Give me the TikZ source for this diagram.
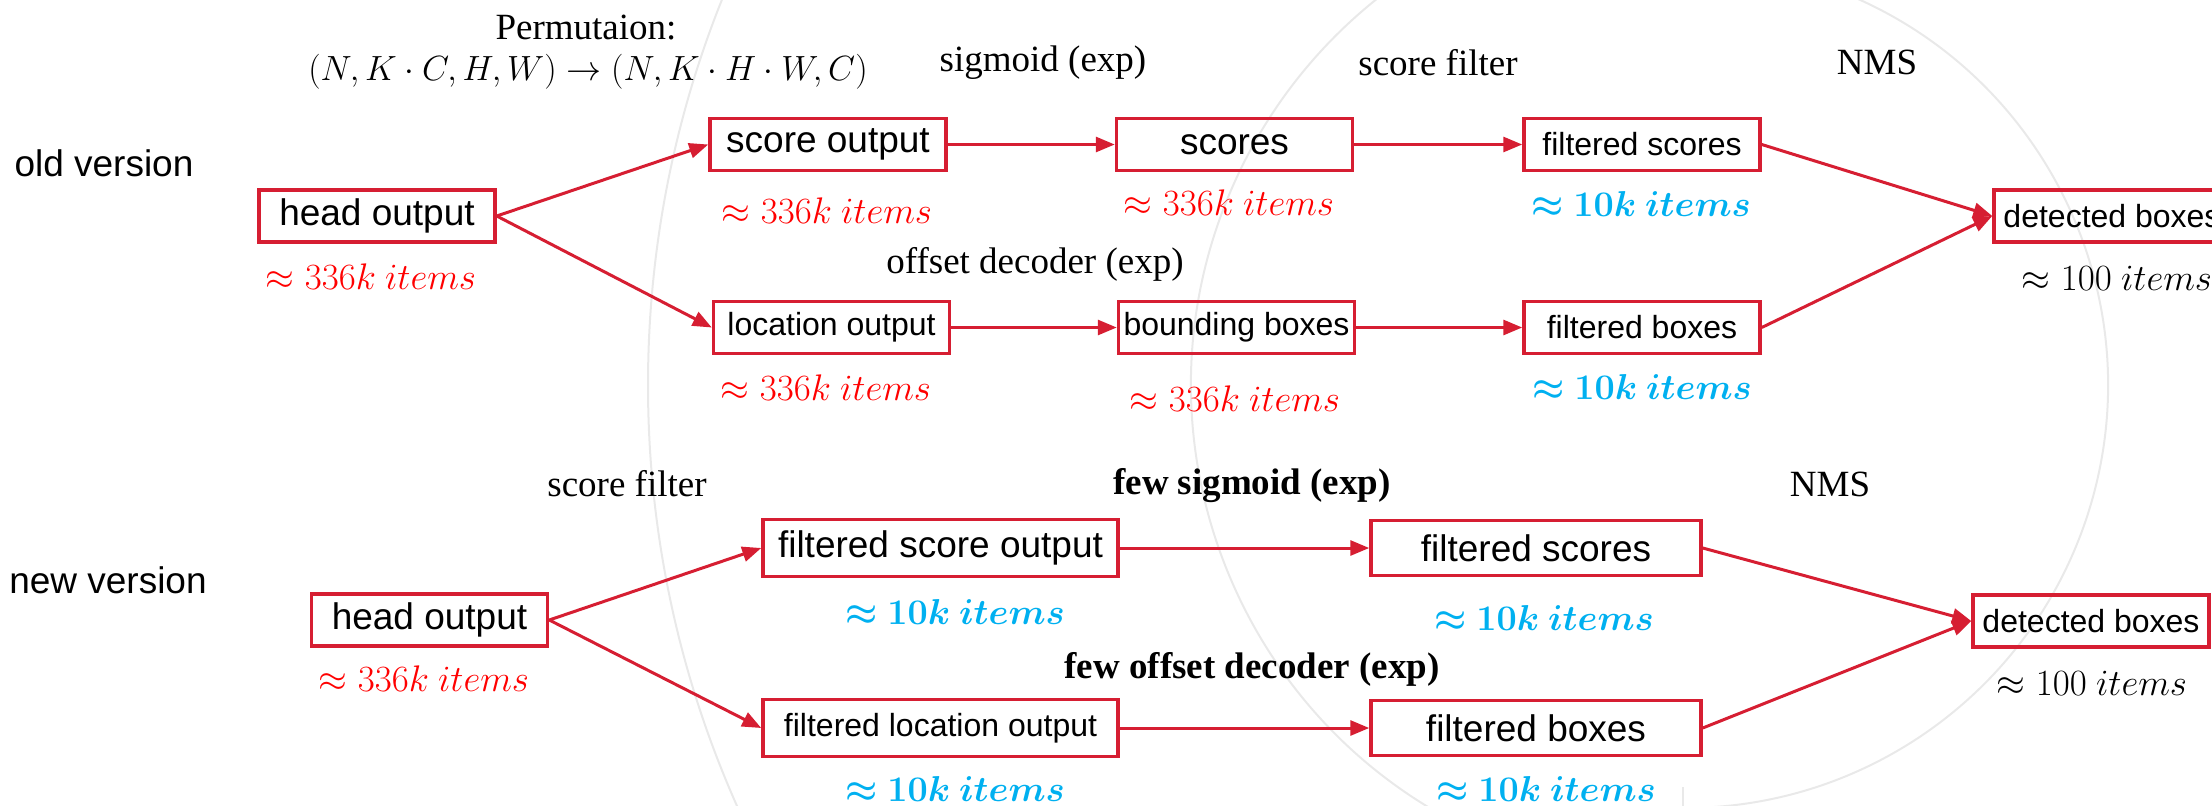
\RequirePackage{fix-cm}
\documentclass[tikz,border=0pt]{standalone}
\usepackage{bm}
\usepackage[no-math]{fontspec}
\setmainfont{Liberation Serif}
\newfontfamily\boxfont{Liberation Sans}
\usetikzlibrary{arrows.meta}

\definecolor{boxred}{RGB}{214,30,50}
\definecolor{numred}{RGB}{255,0,0}
\definecolor{numblue}{RGB}{0,176,240}
\definecolor{ring}{RGB}{233,233,233}

\newcommand{\cntmany}{$\approx 336k\ items$}
\newcommand{\cntfew}{$\bm{\approx}\bm{10k}\ \bm{items}$}
\newcommand{\cntlast}{$\approx 100\ items$}

\begin{document}
\begin{tikzpicture}[x=1pt,y=-1pt,
  box/.style={draw=boxred, line width=3.5pt, inner sep=0pt,
    font=\boxfont\fontsize{37}{44}\selectfont,
    minimum width=236pt, minimum height=52pt},
  small/.style={font=\boxfont\fontsize{32}{38}\selectfont},
  side/.style={inner sep=0pt, font=\boxfont\fontsize{37}{44}\selectfont},
  lbl/.style={inner sep=0pt, font=\fontsize{37}{44}\selectfont},
  lblbf/.style={inner sep=0pt, font=\bfseries\fontsize{37}{44}\selectfont},
  cnt/.style={inner sep=0pt, font=\fontsize{37}{44}\selectfont, text=numred},
  cntb/.style={inner sep=0pt, font=\fontsize{36}{44}\selectfont, text=numblue},
  cntk/.style={inner sep=0pt, font=\fontsize{37}{44}\selectfont, text=black},
  flow/.style={draw=boxred, line width=3pt, -{Triangle[length=19pt,width=15pt]}},
]
\useasboundingbox (0,0) rectangle (2212,806);

% faint concentric rings in the background
\begin{scope}
  \clip (0,0) rectangle (2212,806);
  \draw[ring, line width=2pt] (1685,385) circle[radius=1037];
  \draw[ring, line width=2pt] (1685,385) ++(115:494) arc[start angle=115, end angle=245, radius=494];
  \draw[ring, line width=2pt] (1685,385) ++(-70:423) arc[start angle=-70, end angle=90, radius=423];
  \draw[ring, line width=2pt] (1683,787) -- (1683,806);
\end{scope}

% ---------- old version ----------
\node[lbl] (perm) at (586,28) {Permutaion:};
\node[lbl, font=\fontsize{35}{42}\selectfont] (permfx) at (588,72)
  {$(N,K\cdot C,H,W)\rightarrow(N,K\cdot H\cdot W,C)$};
\node[lbl] (sig) at (1043,63) {sigmoid (exp)};
\node[lbl] (sfa) at (1438,63) {score filter};
\node[lbl] (nmsa) at (1877,62) {NMS};
\node[lbl] (offa) at (1035,264) {offset decoder (exp)};
\node[side] (oldv) at (104,163) {old version};

\node[box] (hda) at (377,216) {head output};
\node[box] (so) at (828,144.5) {score output};
\node[box,small] (lo) at (831.5,327.5) {location output};
\node[box] (sc) at (1234.5,144.5) {scores};
\node[box,small] (bb) at (1236.5,327.5) {bounding boxes};
\node[box,small] (fsa) at (1642,144.5) {filtered scores};
\node[box,small] (fba) at (1642,327.5) {filtered boxes};
\node[box,small] (dba) at (2112,216) {detected boxes};

\node[cnt] (ca1) at (371,277) {\cntmany};
\node[cnt] (ca2) at (827,211) {\cntmany};
\node[cnt] (ca3) at (826,388) {\cntmany};
\node[cnt] (ca4) at (1229,203) {\cntmany};
\node[cnt] (ca5) at (1235,399) {\cntmany};
\node[cntb] (ca6) at (1641,204) {\cntfew};
\node[cntb] (ca7) at (1642,387) {\cntfew};
\node[cntk] (ca8) at (2117,278) {\cntlast};

\draw[flow] (hda.east) -- (so.west);
\draw[flow] (hda.east) -- (lo.west);
\draw[flow] (so.east) -- (sc.west);
\draw[flow] (lo.east) -- (bb.west);
\draw[flow] (sc.east) -- (fsa.west);
\draw[flow] (bb.east) -- (fba.west);
\draw[flow] (fsa.east) -- (dba.west);
\draw[flow] (fba.east) -- (dba.west);

% ---------- new version ----------
\node[lbl] (sfb) at (627,484) {score filter};
\node[lblbf] (fsig) at (1252,486) {few sigmoid (exp)};
\node[lbl] (nmsb) at (1830,484) {NMS};
\node[lblbf] (foff) at (1252,669) {few offset decoder (exp)};
\node[side] (newv) at (108,580) {new version};

\node[box] (hdb) at (429.5,620) {head output};
\node[box, minimum width=355pt, minimum height=57pt] (fso) at (940.5,548) {filtered score output};
\node[box, small, minimum width=355pt, minimum height=57pt] (flo) at (940.5,728) {filtered location output};
\node[box, minimum width=330pt, minimum height=55pt] (fsb) at (1536,548) {filtered scores};
\node[box, minimum width=330pt, minimum height=55pt] (fbb) at (1536,728) {filtered boxes};
\node[box,small] (dbb) at (2091,621) {detected boxes};

\node[cnt] (cb1) at (424,679) {\cntmany};
\node[cntb] (cb2) at (955,612) {\cntfew};
\node[cntb] (cb3) at (955,789) {\cntfew};
\node[cntb] (cb4) at (1544,618) {\cntfew};
\node[cntb] (cb5) at (1546,789) {\cntfew};
\node[cntk] (cb6) at (2092,683) {\cntlast};

\draw[flow] (hdb.east) -- (fso.west);
\draw[flow] (hdb.east) -- (flo.west);
\draw[flow] (fso.east) -- (fsb.west);
\draw[flow] (flo.east) -- (fbb.west);
\draw[flow] (fsb.east) -- (dbb.west);
\draw[flow] (fbb.east) -- (dbb.west);
\end{tikzpicture}
\end{document}
